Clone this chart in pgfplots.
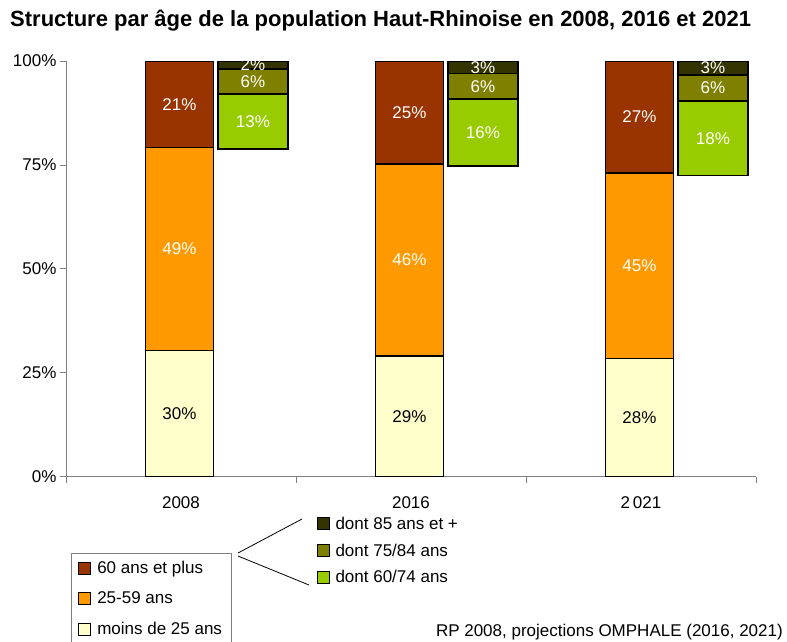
\documentclass[border=0pt]{standalone}
\usepackage{fontspec}
\setmainfont{Liberation Sans}
\usepackage{pgfplots}
\pgfplotsset{compat=1.18}

\definecolor{jeune}{HTML}{FFFFCC}
\definecolor{adulte}{HTML}{FF9900}
\definecolor{senior}{HTML}{993300}
\definecolor{sA}{HTML}{99CC00}
\definecolor{sB}{HTML}{808000}
\definecolor{sC}{HTML}{333300}
\definecolor{axegris}{HTML}{808080}

\pgfplotsset{
  common/.style={
    scale only axis, width=690pt, height=415.7pt,
    at={(66pt,-476.7pt)}, anchor=south west,
    xmin=0, xmax=3, ymin=0, ymax=100,
    ybar stacked, bar width=68pt,
    legend image code/.code={\draw[##1, line width=1pt] (0pt,-6pt) rectangle (12pt,6pt);},
  },
  seg/.style={draw=black, line width=1.4pt, fill=#1},
  lbl/.style={nodes near coords, point meta=explicit symbolic,
    every node near coord/.append style={anchor=center,
      font=\fontsize{17}{20}\selectfont, text=#1}},
}

\begin{document}
\begin{tikzpicture}
\useasboundingbox (0,0) rectangle (787pt,-641pt);

% barres principales
\begin{axis}[common,
  axis x line*=bottom, axis y line*=left,
  axis line style={draw=axegris, line width=0.8pt, -},
  tick style={draw=axegris, line width=0.8pt},
  tick align=outside, major tick length=6pt,
  ytick={0,25,50,75,100},
  yticklabel={\pgfmathprintnumber{\tick}\%},
  yticklabel style={font=\fontsize{17}{20}\selectfont, /pgf/number format/assume math mode=true},
  xtick={0,1,2,3}, xticklabels={,,,},
  extra x ticks={0.5,1.5,2.5}, extra x tick labels={2008,2016,2\,021},
  extra x tick style={major tick length=0pt, tick label style={font=\fontsize{17}{20}\selectfont, yshift=-16pt}},
  reverse legend,
  legend cell align=left,
  legend style={at={(0.0072,-0.1835)}, anchor=north west, draw=axegris, line width=0.6pt,
    font=\fontsize{17}{20}\selectfont, row sep=13pt, inner xsep=7pt, inner ysep=6pt,
    /tikz/every odd column/.append style={column sep=4pt}},
]
\addplot[seg=jeune, lbl=black, bar shift=-1.5pt] coordinates {(0.5,30.3) [30\%] (1.5,29.0) [29\%] (2.5,28.5) [28\%]};
\addlegendentry{moins de 25 ans}
\addplot[seg=adulte, lbl=white, bar shift=-1.5pt] coordinates {(0.5,48.9) [49\%] (1.5,46.2) [46\%] (2.5,44.6) [45\%]};
\addlegendentry{25-59 ans}
\addplot[seg=senior, lbl=white, bar shift=-1.5pt] coordinates {(0.5,20.8) [21\%] (1.5,24.8) [25\%] (2.5,26.9) [27\%]};
\addlegendentry{60 ans et plus}
\end{axis}

% detail des 60 ans et plus
\begin{axis}[common, hide axis, bar width=70pt,
  reverse legend,
  legend cell align=left,
  legend style={at={(0.357,-0.082)}, anchor=north west, draw=none, fill=none,
    font=\fontsize{17}{20}\selectfont, row sep=9pt, inner xsep=4pt, inner ysep=4pt,
    /tikz/every odd column/.append style={column sep=4pt}},
]
\addplot[draw=none, fill=none, bar shift=72pt, forget plot] coordinates {(0.5,78.8) (1.5,74.7) (2.5,72.4)};
\addplot[seg=sA, lbl=white, bar shift=72pt] coordinates {(0.5,13.3) [13\%] (1.5,16.2) [16\%] (2.5,18.0) [18\%]};
\addlegendentry{dont 60/74 ans}
\addplot[seg=sB, lbl=white, bar shift=72pt] coordinates {(0.5,6.0) [6\%] (1.5,6.1) [6\%] (2.5,6.2) [6\%]};
\addlegendentry{dont 75/84 ans}
\addplot[seg=sC, lbl=white, bar shift=72pt] coordinates {(0.5,1.9) [2\%] (1.5,3.0) [3\%] (2.5,3.4) [3\%]};
\addlegendentry{dont 85 ans et +}
\end{axis}

\draw[line width=0.8pt] (238pt,-553pt) -- (302pt,-519pt);
\draw[line width=0.8pt] (238pt,-556pt) -- (309pt,-585pt);

\node[font=\bfseries\fontsize{22}{25}\selectfont, anchor=west, inner sep=0pt] at (10pt,-21pt)
  {Structure par âge de la population Haut-Rhinoise en 2008, 2016 et 2021};
\node[font=\fontsize{17}{20}\selectfont, anchor=base east, inner sep=0pt] at (783pt,-636pt)
  {RP 2008, projections OMPHALE (2016, 2021)};
\end{tikzpicture}
\end{document}
